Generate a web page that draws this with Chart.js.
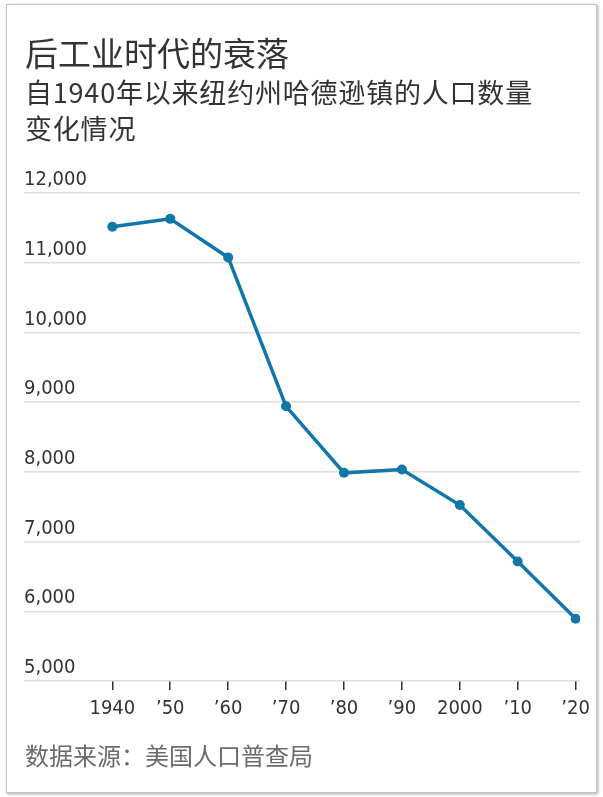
<!DOCTYPE html>
<html>
<head>
<meta charset="utf-8">
<script src="https://cdn.jsdelivr.net/npm/chart.js@4"></script>
<style>
  html, body { margin: 0; padding: 0; background: #fff; }
  body { width: 603px; height: 797px; position: relative; overflow: hidden; }
  #frame {
    position: absolute; left: 6px; top: 4px; width: 589px; height: 787px;
    border: 1px solid #c4c4c4; box-shadow: 1px 1px 3px rgba(0,0,0,0.35);
  }
  #chartBox { position: absolute; left: 0; top: 0; width: 603px; height: 797px; }
  .txt { position: absolute; left: 25px; font-family: "Noto Sans CJK SC", sans-serif; color: #333; white-space: nowrap; }
  #title { top: 36px; font-size: 33px; line-height: 32px; }
  #subtitle { top: 74px; font-size: 27px; line-height: 36px; letter-spacing: 0.8px; }
  #source { top: 740px; font-size: 24px; line-height: 30px; color: #6b6b6b; }
</style>
</head>
<body>
<div id="frame"></div>
<div id="chartBox"><canvas id="popChart" width="603" height="797"></canvas></div>
<div class="txt" id="title">后工业时代的衰落</div>
<div class="txt" id="subtitle">自1940年以来纽约州哈德逊镇的人口数量<br>变化情况</div>
<div class="txt" id="source">数据来源：美国人口普查局</div>
<script>
// census years and Hudson population
const years = [1940, 1950, 1960, 1970, 1980, 1990, 2000, 2010, 2020];
const yearLabels = ['1940', '’50', '’60', '’70', '’80', '’90', '2000', '’10', '’20'];
const population = [11517, 11629, 11075, 8940, 7986, 8034, 7524, 6713, 5894];
const yMin = 5000;
const yMax = 12000;
const yStep = 1000;

const tickFont = { family: '"DejaVu Sans Condensed", "DejaVu Sans", sans-serif', size: 20 };
const lineColor = '#1176aa';

const ctx = document.getElementById('popChart').getContext('2d');
new Chart(ctx, {
  type: 'line',
  data: {
    datasets: [{
      data: years.map((y, i) => ({ x: y, y: population[i] })),
      borderColor: lineColor,
      backgroundColor: lineColor,
      borderWidth: 3.5,
      pointRadius: 5,
      pointBorderWidth: 0,
      tension: 0
    }]
  },
  options: {
    responsive: false,
    animation: false,
    layout: { padding: { left: 24, right: 23, top: 193, bottom: 76 } },
    plugins: { legend: { display: false }, tooltip: { enabled: false } },
    scales: {
      x: {
        type: 'linear',
        min: 1924.75,
        max: 2020.75,
        afterBuildTicks: scale => { scale.ticks = years.map(v => ({ value: v })); },
        afterFit: scale => { scale.height = 40; },
        grid: { drawOnChartArea: false, drawTicks: true, tickLength: 9, color: '#333', lineWidth: 1.5 },
        border: { display: false },
        ticks: {
          autoSkip: false, maxRotation: 0, padding: 7,
          font: tickFont, color: '#333',
          callback: v => yearLabels[years.indexOf(v)]
        }
      },
      y: {
        min: yMin,
        max: yMax,
        grid: { drawTicks: false, color: '#dedede', lineWidth: 1.5 },
        border: { display: false },
        ticks: {
          stepSize: yStep, mirror: true, padding: 0, labelOffset: -13,
          font: tickFont, color: '#333',
          callback: v => v.toLocaleString('en-US')
        }
      }
    }
  }
});
</script>
</body>
</html>
